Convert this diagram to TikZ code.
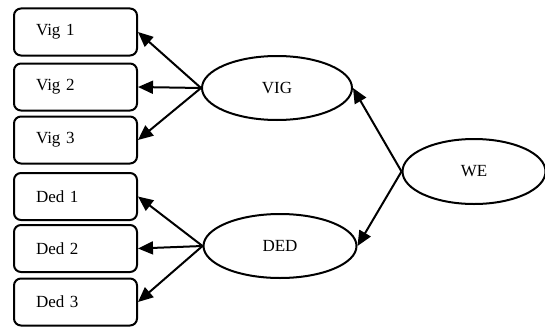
\documentclass[tikz,border=0pt]{standalone}
\usepackage{fontspec}
\setmainfont{Liberation Serif}
\usetikzlibrary{shapes.geometric,arrows.meta}
\begin{document}
\begin{tikzpicture}[x=1pt,y=-1pt,
  every node/.style={font=\fontsize{17}{19}\selectfont},
  itembox/.style={draw,line width=2pt,rounded corners=7pt,minimum height=47pt,
    text width=79pt,inner xsep=22pt,align=left},
  latent/.style={draw,ellipse,line width=2pt,inner sep=0pt},
  arr/.style={line width=2pt,-{Triangle[length=15pt,width=13pt]}}]
\useasboundingbox (0,0) rectangle (545,329);
\node[itembox] (v1) at (75.5,32) {Vig 1};
\node[itembox] (v2) at (75.5,87) {Vig 2};
\node[itembox] (v3) at (75.5,140) {Vig 3};
\node[itembox] (d1) at (75.5,196.5) {Ded 1};
\node[itembox] (d2) at (75.5,248.5) {Ded 2};
\node[itembox] (d3) at (75.5,302) {Ded 3};
\node[latent,minimum width=150pt,minimum height=64pt] (vig) at (277,88) {VIG};
\node[latent,minimum width=153pt,minimum height=64pt] (ded) at (280,246) {DED};
\node[latent,minimum width=143pt,minimum height=65pt] (we) at (474,171.5) {WE};
\draw[arr] (vig.west) -- (v1.east);
\draw[arr] (vig.west) -- (v2.east);
\draw[arr] (vig.west) -- (v3.east);
\draw[arr] (ded.west) -- (d1.east);
\draw[arr] (ded.west) -- (d2.east);
\draw[arr] (ded.west) -- (d3.east);
\draw[arr] (we.west) -- (vig.east);
\draw[arr] (we.west) -- (ded.east);
\end{tikzpicture}
\end{document}
